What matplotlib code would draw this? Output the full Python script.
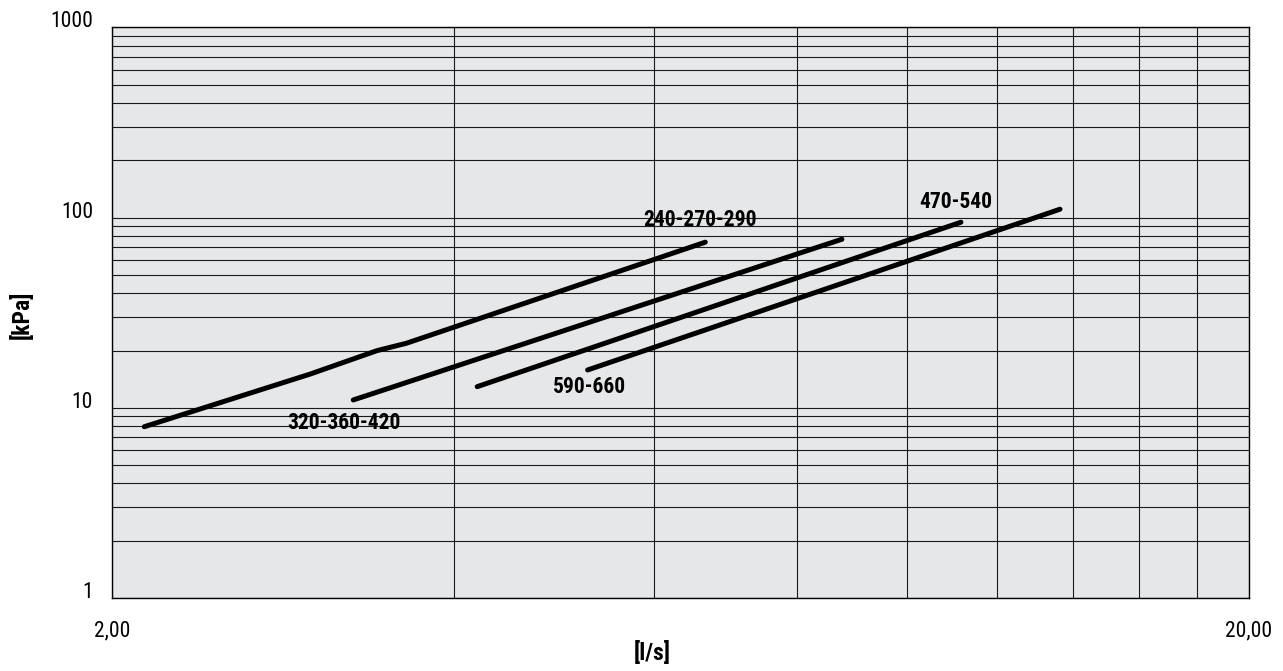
import matplotlib
matplotlib.use("Agg")
import matplotlib.pyplot as plt
from matplotlib.ticker import FixedLocator, NullFormatter

plt.rcParams['font.family'] = ['Liberation Sans Narrow', 'Roboto Condensed',
                               'Liberation Sans', 'DejaVu Sans']

# curve points: flow [l/s] vs pressure drop [kPa]
q_240 = [2.135, 2.99, 3.42, 3.63, 6.65]
p_240 = [7.95, 15.06, 19.96, 21.83, 74.2]
q_320 = [3.26, 8.77]
p_320 = [10.99, 76.9]
q_470 = [4.19, 11.16]
p_470 = [12.91, 94.5]
q_590 = [5.24, 13.64]
p_590 = [15.8, 110.6]

curves = [(q_240, p_240), (q_320, p_320), (q_470, p_470), (q_590, p_590)]

# labels and where they sit (data coords)
curve_names = ['240-270-290', '320-360-420', '470-540', '590-660']
name_x = [6.58, 3.20, 11.05, 5.26]
name_y = [97.1, 8.32, 120.8, 12.9]

y_ticks = [1, 10, 100, 1000]
y_tick_labels = ['1', '10', '100', '1000']
x_ticks = [2, 20]
x_tick_labels = ['2,00', '20,00']
x_grid = [4, 6, 8, 10, 12, 14, 16, 18]

fig = plt.figure(figsize=(12.83, 6.71), dpi=100)
ax = fig.add_axes([0.0873, 0.1088, 0.8862, 0.8505])
ax.set_facecolor('#e6e7e9')

ax.set_xscale('log')
ax.set_yscale('log')
ax.set_xlim(2, 20)
ax.set_ylim(1, 1000)

for q, p in curves:
    ax.plot(q, p, color='black', lw=3.6, solid_capstyle='round',
            solid_joinstyle='round', zorder=3)

for name, tx, ty in zip(curve_names, name_x, name_y):
    ax.text(tx, ty, name, ha='center', va='center', fontsize=15.5,
            fontweight='bold', zorder=4)

# ticks / grid
ax.xaxis.set_major_locator(FixedLocator(x_ticks))
ax.set_xticklabels(x_tick_labels)
ax.xaxis.set_minor_locator(FixedLocator(x_grid))
ax.xaxis.set_minor_formatter(NullFormatter())
ax.yaxis.set_major_locator(FixedLocator(y_ticks))
ax.set_yticklabels(y_tick_labels)
y_minor = [m * d for d in (1, 10, 100) for m in range(2, 10)]
ax.yaxis.set_minor_locator(FixedLocator(y_minor))
ax.yaxis.set_minor_formatter(NullFormatter())

ax.grid(True, which='both', color='#1a1a1a', lw=0.8)
ax.set_axisbelow(True)
ax.tick_params(which='both', length=0)
ax.tick_params(axis='y', labelsize=15.5, pad=13.7)
ax.tick_params(axis='x', labelsize=15.5, pad=16)
for lab in ax.get_yticklabels():
    lab.set_va('baseline')

for s in ax.spines.values():
    s.set_color('black')
    s.set_linewidth(1.0)

ax.set_xlabel('[l/s]', fontsize=17, fontweight='bold', va='center')
ax.xaxis.set_label_coords(0.475, -0.0963)
ax.set_ylabel('[kPa]', fontsize=17, fontweight='bold', va='center')
ax.yaxis.set_label_coords(-0.0796, 0.496)

plt.savefig('out.png', dpi=100)
